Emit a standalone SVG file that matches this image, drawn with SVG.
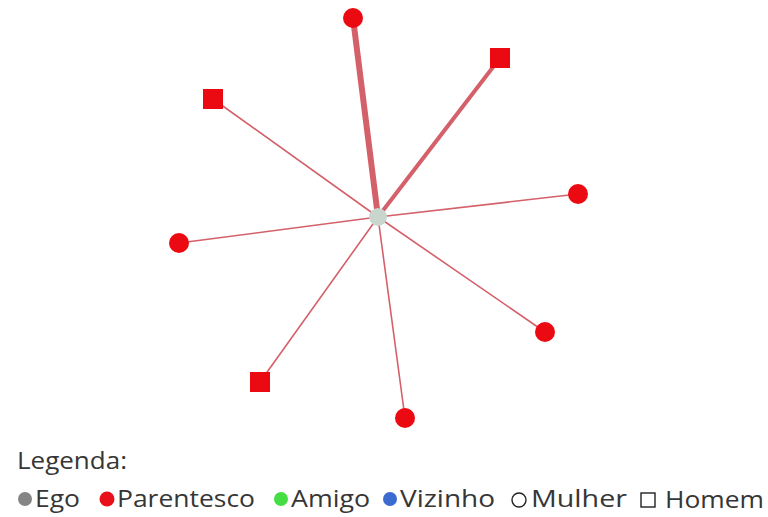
<svg xmlns="http://www.w3.org/2000/svg" width="768" height="517" viewBox="0 0 768 517">
<style>
.edge{stroke:#d4606a;stroke-linecap:round;fill:none}
.thin{stroke-width:1.6}
.node{fill:#ec0a12}
.ego{fill:#c8d6ce}
.lbl{font-family:"Open Sans","Noto Sans",sans-serif;font-size:24px;fill:#363636}
</style>
<rect width="768" height="517" fill="#ffffff"/>
<g id="connectors">
<line class="edge" x1="378" y1="217" x2="353" y2="18" stroke-width="6"/>
<line class="edge" x1="378" y1="217" x2="500" y2="58" stroke-width="4"/>
<line class="edge thin" x1="378" y1="217" x2="213" y2="99"/>
<line class="edge thin" x1="378" y1="217" x2="578" y2="194"/>
<line class="edge thin" x1="378" y1="217" x2="179" y2="243"/>
<line class="edge thin" x1="378" y1="217" x2="545" y2="332"/>
<line class="edge thin" x1="378" y1="217" x2="260" y2="382"/>
<line class="edge thin" x1="378" y1="217" x2="405" y2="418"/>
</g>
<g id="ego"><circle class="ego" cx="378" cy="217" r="9"/></g>
<g id="n1"><circle class="node" cx="353" cy="18" r="10"/></g>
<g id="n2"><rect class="node" x="490" y="48" width="20" height="20"/></g>
<g id="n3"><rect class="node" x="203" y="89" width="20" height="20"/></g>
<g id="n4"><circle class="node" cx="578" cy="194" r="10"/></g>
<g id="n5"><circle class="node" cx="179" cy="243" r="10"/></g>
<g id="n6"><circle class="node" cx="545" cy="332" r="10"/></g>
<g id="n7"><rect class="node" x="250" y="372" width="20" height="20"/></g>
<g id="n8"><circle class="node" cx="405" cy="418" r="10"/></g>
<g id="legend">
<text class="lbl" x="17" y="469" textLength="110" lengthAdjust="spacingAndGlyphs">Legenda:</text>
<circle cx="25" cy="499" r="7" fill="#858585"/>
<text class="lbl" x="35" y="507" textLength="45" lengthAdjust="spacingAndGlyphs">Ego</text>
<circle cx="107" cy="499" r="7.5" fill="#e8101a"/>
<text class="lbl" x="117" y="507" textLength="138" lengthAdjust="spacingAndGlyphs">Parentesco</text>
<circle cx="281" cy="499" r="7" fill="#44dd44"/>
<text class="lbl" x="291" y="507" textLength="79" lengthAdjust="spacingAndGlyphs">Amigo</text>
<circle cx="390" cy="499" r="7" fill="#3a6bd0"/>
<text class="lbl" x="400" y="507" textLength="95" lengthAdjust="spacingAndGlyphs">Vizinho</text>
<circle cx="519" cy="500" r="7" fill="none" stroke="#222" stroke-width="1.4"/>
<text class="lbl" x="531" y="507" textLength="96" lengthAdjust="spacingAndGlyphs">Mulher</text>
<rect x="641" y="493" width="14" height="14" fill="none" stroke="#222" stroke-width="1.4"/>
<text class="lbl" x="665" y="508" textLength="99" lengthAdjust="spacingAndGlyphs">Homem</text>
</g>
</svg>
